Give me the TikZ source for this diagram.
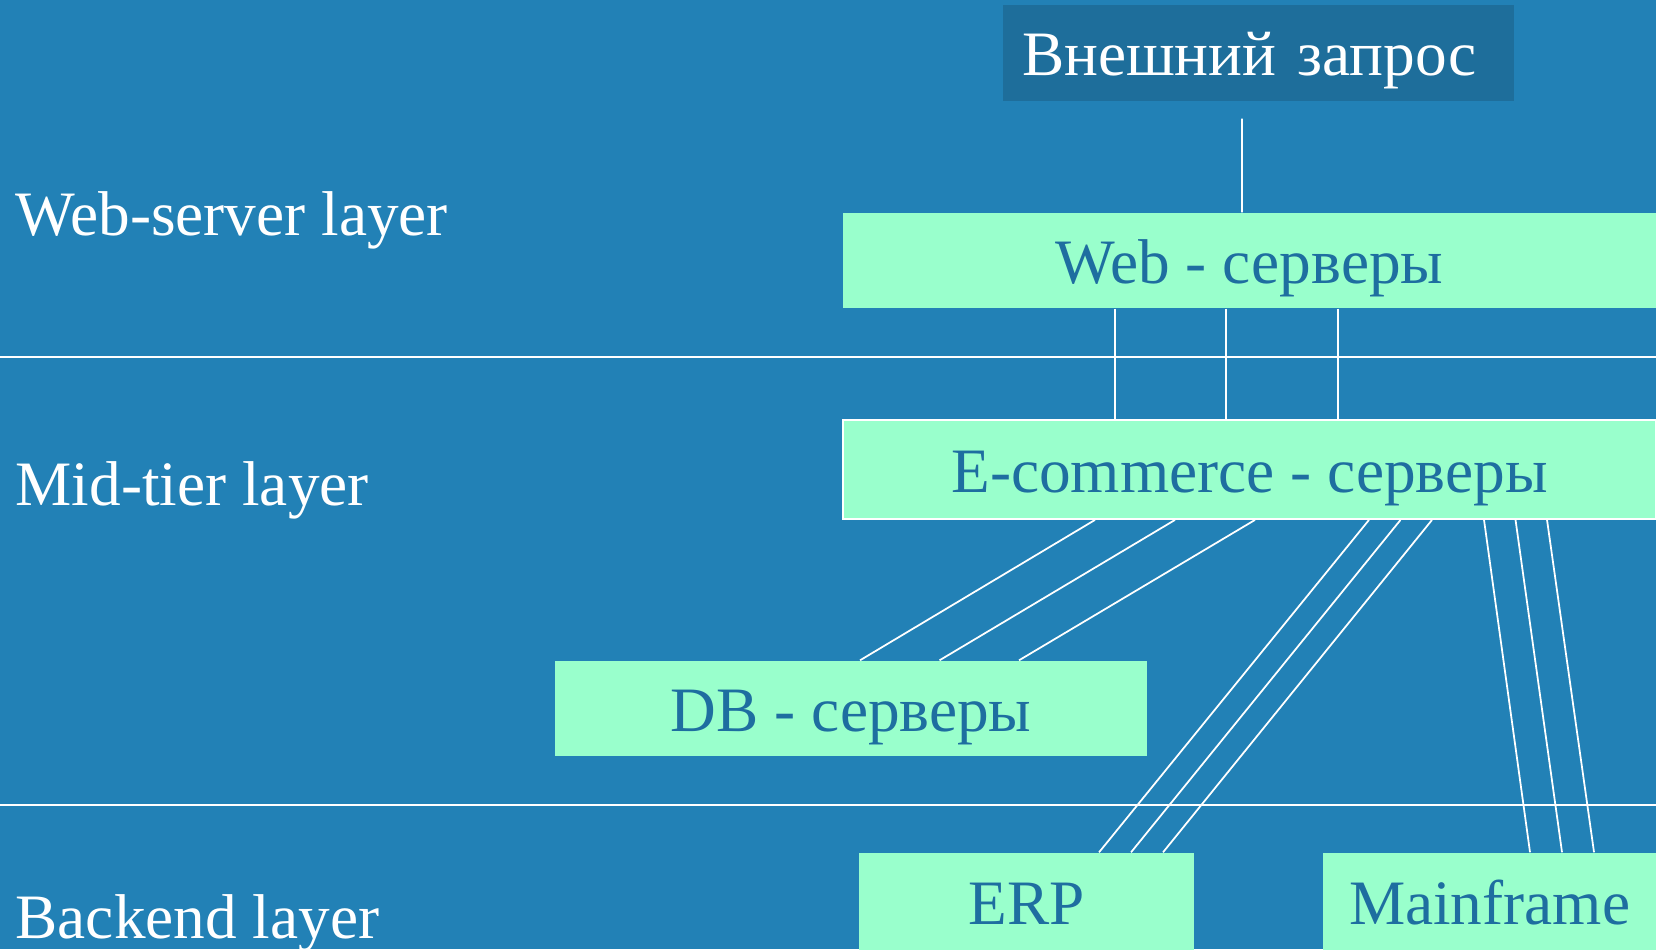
\documentclass[tikz,border=0pt]{standalone}
\usepackage{fontspec}
\setmainfont{Liberation Serif}
\definecolor{slidebg}{RGB}{34,129,182}
\definecolor{darkbox}{RGB}{30,110,155}
\definecolor{mint}{RGB}{153,255,204}
\definecolor{boxtext}{RGB}{30,110,160}
\begin{document}
\begin{tikzpicture}[x=1mm,y=1mm]
\tikzstyle{every node}+=[inner sep=0pt]
\tikzstyle{srvbox}=[fill=mint,text=boxtext,minimum height=0.95cm,text height=0.6cm,text depth=0.15cm,font=\fontsize{18}{21.6}\selectfont]
\tikzstyle{layer}=[anchor=base west,text=white,font=\fontsize{18}{21.6}\selectfont]
\tikzstyle{wire}=[white,line width=0.5pt]
\useasboundingbox (0,0) rectangle (165.6,-94.9);
\clip (0,0) rectangle (165.6,-94.9);
\fill [slidebg] (0,0) rectangle (165.6,-94.9);
\node [layer] (lweb) at (1.5,-23.5) {Web-server layer};
\node [layer] (lmid) at (1.5,-50.5) {Mid-tier layer};
\node [layer] (lback) at (1.5,-93.8) {Backend layer};
\draw [wire] (0,-35.7) -- (165.6,-35.7);
\draw [wire] (0,-80.5) -- (165.6,-80.5);
\node [srvbox,fill=darkbox,text=white,minimum width=5.11cm,minimum height=0.96cm,text width=4.73cm,inner xsep=0.19cm,align=left] (req) at (125.85,-5.3) {Внешний запрос};
\node [srvbox,minimum width=8.13cm] (web) at (124.95,-26.05) {Web - серверы};
\node [srvbox,draw=white,line width=0.5pt,minimum width=8.13cm,minimum height=0.99cm] (ecom) at (124.95,-46.95) {E-commerce - серверы};
\node [srvbox,minimum width=5.92cm] (db) at (85.1,-70.85) {DB - серверы};
\node [srvbox,minimum width=3.35cm,minimum height=0.97cm] (erp) at (102.65,-90.15) {ERP};
\node [srvbox,minimum width=3.33cm,minimum height=0.97cm] (mf) at (148.95,-90.15) {Mainframe};
\draw [wire] ([shift={(-0.165cm,-0.17cm)}]req.south) -- ([xshift=-0.075cm]web.north);
\foreach \x in {-1.345,-0.235,0.885}
  \draw [wire] ([xshift=\x cm]web.south) -- ([xshift=\x cm]ecom.north);
\foreach \i in {0,1,2} {
  \draw [wire] ([xshift={-1.545cm+0.8cm*\i}]ecom.south) -- ([xshift={0.09cm+0.795cm*\i}]db.north);
  \draw [wire] ([xshift={1.195cm+0.315cm*\i}]ecom.south) -- ([xshift={0.725cm+0.32cm*\i}]erp.north);
  \draw [wire] ([xshift={2.345cm+0.315cm*\i}]ecom.south) -- ([xshift={0.405cm+0.32cm*\i}]mf.north);
}
\end{tikzpicture}
\end{document}
